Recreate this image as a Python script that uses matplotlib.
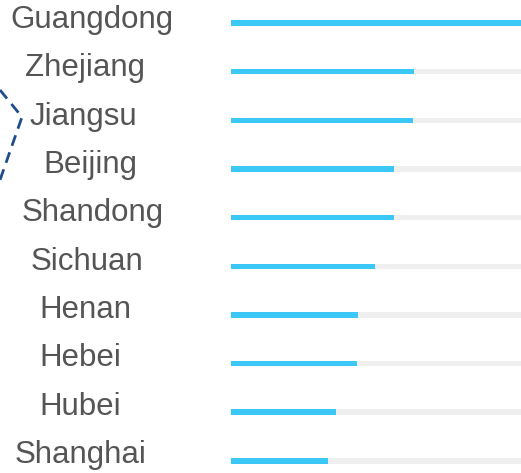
import matplotlib.pyplot as plt
from matplotlib.lines import Line2D
import matplotlib.transforms as mtransforms

provinces = ['Guangdong', 'Zhejiang', 'Jiangsu', 'Beijing', 'Shandong',
             'Sichuan', 'Henan', 'Hebei', 'Hubei', 'Shanghai']
values = [100, 63.1, 62.8, 56.2, 56.2, 49.7, 43.8, 43.4, 36.2, 33.4]
max_value = 100

# label centres in pixels (they are not all on one line in the original)
label_x = [92, 85.5, 83, 90, 92.5, 87, 85, 80.5, 80.5, 81]

W, H = 521, 473
row_px = 48.66
fig = plt.figure(figsize=(W / 100, H / 100), dpi=100)
ax = fig.add_axes([231 / W, 0, 290 / W, 1])

ypos = list(range(len(provinces)))
# grey track behind each bar
ax.barh(ypos, [max_value] * len(ypos), height=0.11, color='#efefef')
ax.barh(ypos, values, height=0.11, color='#3cc8f7')

ax.set_xlim(0, max_value)
ax.set_ylim(9.25, -0.47)
ax.axis('off')

# labels sit a little below the bar line, text rows slightly tighter than bars
trans = mtransforms.blended_transform_factory(fig.transFigure, ax.transData)
for y, name, lx in zip(ypos, provinces, label_x):
    ax.text(lx / W, y + (5 - 0.33 * y) / row_px, name, transform=trans,
            ha='center', va='baseline', fontsize=22.5, color='#555555',
            family='Liberation Sans', clip_on=False)

# dashed leader line entering from the left edge
fig.add_artist(Line2D([0, 22 / W, 0], [1 - 90 / H, 1 - 117 / H, 1 - 180 / H],
                      transform=fig.transFigure, color='#1f4d8a', lw=2,
                      linestyle=(0, (4, 2.5))))

fig.savefig('out.png', dpi=100)
